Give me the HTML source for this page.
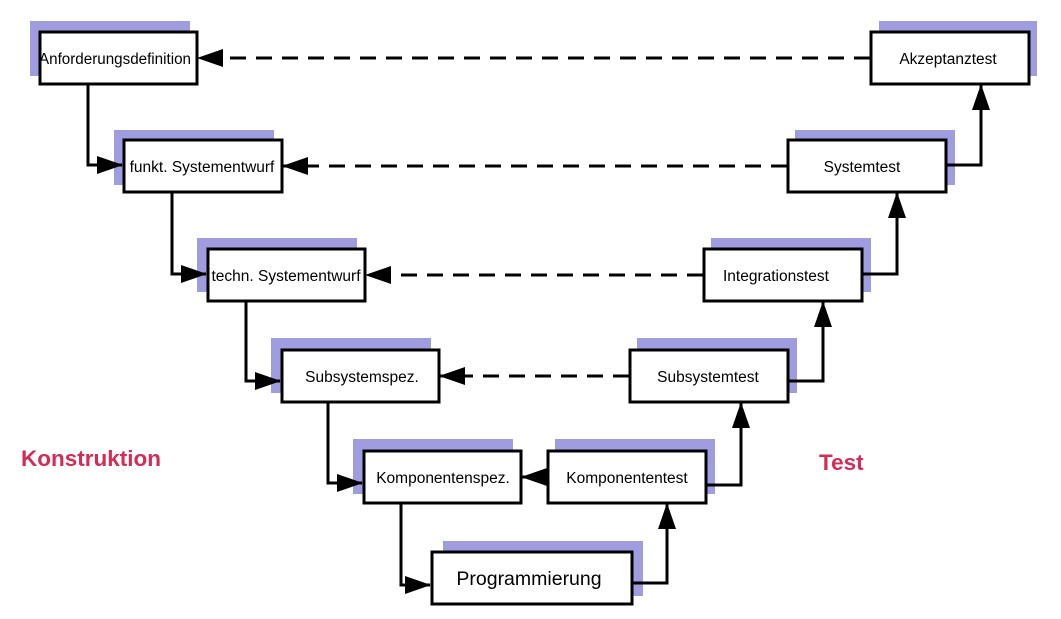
<!DOCTYPE html>
<html><head><meta charset="utf-8"><style>
html,body{margin:0;padding:0;background:#fff;width:1061px;height:619px;overflow:hidden}
svg{display:block}
text{font-family:"Liberation Sans",sans-serif}
</style></head><body>
<svg width="1061" height="619" viewBox="0 0 1061 619" xmlns="http://www.w3.org/2000/svg">
<defs>
<marker id="a" markerWidth="26" markerHeight="18" refX="25" refY="9" orient="auto" markerUnits="userSpaceOnUse">
<path d="M0,0 L26,9 L0,18 Z" fill="#000"/></marker>
</defs>
<g fill="#a09ce0">
<rect x="30" y="21" width="160" height="55"/>
<rect x="114" y="130" width="160" height="55"/>
<rect x="197" y="238" width="160" height="54"/>
<rect x="271" y="338" width="160" height="55"/>
<rect x="353" y="439" width="160" height="55"/>
<rect x="443" y="541" width="200" height="55"/>
<rect x="555" y="439" width="160" height="55"/>
<rect x="637" y="338" width="160" height="55"/>
<rect x="711" y="238" width="160" height="54"/>
<rect x="795" y="130" width="160" height="55"/>
<rect x="879" y="21" width="158" height="55"/>
</g>
<g fill="none" stroke="#000" stroke-width="3">
<polyline points="88,84 88,165 122,165" marker-end="url(#a)"/>
<polyline points="172,192 172,274 206,274" marker-end="url(#a)"/>
<polyline points="246,301 246,381 280,381" marker-end="url(#a)"/>
<polyline points="328,402 328,483 362,483" marker-end="url(#a)"/>
<polyline points="401,503 401,585 430,585" marker-end="url(#a)"/>
<polyline points="632,583 667,583 667,504" marker-end="url(#a)"/>
<polyline points="706,485 741,485 741,403" marker-end="url(#a)"/>
<polyline points="788,381 823,381 823,302" marker-end="url(#a)"/>
<polyline points="862,274 897,274 897,193" marker-end="url(#a)"/>
<polyline points="946,165 981,165 981,85" marker-end="url(#a)"/>
<line x1="547" y1="477" x2="522" y2="477" marker-end="url(#a)"/>
<g stroke-dasharray="16,10">
<line x1="870" y1="58" x2="198" y2="58" marker-end="url(#a)"/>
<line x1="787" y1="166" x2="283" y2="166" marker-end="url(#a)"/>
<line x1="703" y1="275" x2="366" y2="275" marker-end="url(#a)"/>
<line x1="629" y1="376" x2="440" y2="376" marker-end="url(#a)"/>
</g>
</g>
<g fill="#fff" stroke="#000" stroke-width="3">
<rect x="40" y="32" width="157" height="52"/>
<rect x="124" y="140" width="158" height="52"/>
<rect x="208" y="249" width="157" height="52"/>
<rect x="282" y="350" width="157" height="52"/>
<rect x="364" y="451" width="157" height="52"/>
<rect x="432" y="552" width="200" height="52"/>
<rect x="548" y="451" width="158" height="52"/>
<rect x="630" y="350" width="158" height="52"/>
<rect x="704" y="249" width="158" height="52"/>
<rect x="788" y="140" width="158" height="52"/>
<rect x="871" y="32" width="158" height="52"/>
</g>
<g font-size="15.5" text-anchor="middle" fill="#000">
<text x="115" y="64" textLength="152" lengthAdjust="spacingAndGlyphs">Anforderungsdefinition</text>
<text x="202" y="172">funkt. Systementwurf</text>
<text x="286" y="281">techn. Systementwurf</text>
<text x="362" y="382">Subsystemspez.</text>
<text x="443" y="483">Komponentenspez.</text>
<text x="529" y="585" font-size="19.5">Programmierung</text>
<text x="627" y="483">Komponententest</text>
<text x="708" y="382">Subsystemtest</text>
<text x="776" y="281">Integrationstest</text>
<text x="862" y="172">Systemtest</text>
<text x="948" y="64">Akzeptanztest</text>
</g>
<g font-size="22.5" font-weight="bold" fill="#d42c55">
<text x="21" y="466">Konstruktion</text>
<text x="819" y="470">Test</text>
</g>
</svg>
</body></html>
